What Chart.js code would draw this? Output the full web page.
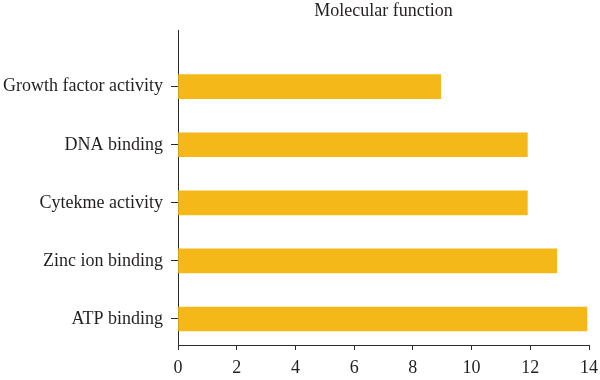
<!DOCTYPE html>
<html>
<head>
<meta charset="utf-8">
<script src="https://cdn.jsdelivr.net/npm/chart.js@4"></script>
<style>
  html, body { margin: 0; padding: 0; background: #fff; }
  #wrap { width: 600px; height: 380px; }
</style>
</head>
<body>
<div id="wrap"><canvas id="c" width="600" height="380"></canvas></div>
<script>
const categories = ["Growth factor activity", "DNA binding", "Cytekme activity", "Zinc ion binding", "ATP binding"];
const values = [8.95, 11.9, 11.9, 12.9, 13.93];
const xTicks = [0, 2, 4, 6, 8, 10, 12, 14];
const chartTitle = "Molecular function";

const FONT = "'Liberation Serif', 'DejaVu Serif', serif";
const TXT = "#231f20";
const AX = "#2b2b2b";

const points = categories.map((c, i) => ({ x: values[i], y: i }));

new Chart(document.getElementById('c'), {
  type: 'bar',
  data: {
    datasets: [{
      data: points,
      backgroundColor: '#f4b819',
      borderWidth: 0,
      barThickness: 24
    }]
  },
  options: {
    indexAxis: 'y',
    responsive: false,
    animation: false,
    events: [],
    layout: { padding: { left: 0, right: 11, top: 0, bottom: 0 } },
    plugins: {
      legend: { display: false },
      tooltip: { enabled: false },
      title: {
        display: true,
        text: chartTitle,
        fullSize: false,
        color: TXT,
        font: { family: FONT, size: 18, weight: 'normal' },
        padding: { top: 0, bottom: 9 }
      }
    },
    scales: {
      x: {
        type: 'linear',
        position: 'bottom',
        min: 0,
        max: 14,
        offset: false,
        afterBuildTicks: s => { s.ticks = xTicks.map(v => ({ value: v })); },
        afterFit: s => { s.height = 35; s.paddingRight = 0; s.paddingLeft = 0; },
        grid: { display: true, offset: false, drawOnChartArea: false, drawTicks: true, tickLength: 5, tickColor: AX, tickWidth: 1 },
        border: { display: true, color: AX, width: 1 },
        ticks: { color: TXT, font: { family: FONT, size: 18 }, padding: 7, maxRotation: 0 }
      },
      y: {
        type: 'linear',
        reverse: true,
        offset: false,
        min: -0.966,
        max: 4.448,
        afterBuildTicks: s => { s.ticks = categories.map((c, i) => ({ value: i })); },
        afterFit: s => { s.width = 178; },
        grid: { display: true, offset: false, drawOnChartArea: false, drawTicks: true, tickLength: 7, tickColor: AX, tickWidth: 1 },
        border: { display: true, color: AX, width: 1 },
        ticks: {
          color: TXT,
          font: { family: FONT, size: 18 },
          padding: 8,
          callback: v => categories[v]
        }
      }
    }
  }
});
</script>
</body>
</html>
